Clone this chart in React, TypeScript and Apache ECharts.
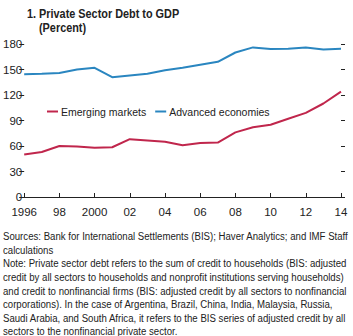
import React, { useEffect, useRef } from "react";
import * as echarts from "echarts";

const years = [1996, 1997, 1998, 1999, 2000, 2001, 2002, 2003, 2004, 2005, 2006, 2007, 2008, 2009, 2010, 2011, 2012, 2013, 2014];
const emergingMarkets = [50, 53, 60, 59.5, 58, 58.5, 68, 66.5, 65, 61, 63.5, 64, 76, 82, 85, 92, 99, 110, 124];
const advancedEconomies = [144.5, 145, 146, 150, 152, 141, 143, 145, 149, 152, 155.5, 159, 170, 176, 174, 174.5, 176, 173.5, 174.5];
const yTicks = [0, 30, 60, 90, 120, 150, 180];
const xTickLabels: Record<number, string> = {
  1996: "1996", 1998: "98", 2000: "2000", 2002: "02", 2004: "04", 2006: "06",
  2008: "08", 2010: "10", 2012: "12", 2014: "14",
};
const titleLines = ["1. Private Sector Debt to GDP", "(Percent)"];
const footLines = [
  "Sources: Bank for International Settlements (BIS); Haver Analytics; and IMF Staff",
  "calculations",
  "Note: Private sector debt refers to the sum of credit to households (BIS: adjusted",
  "credit by all sectors to households and nonprofit institutions serving households)",
  "and credit to nonfinancial firms (BIS: adjusted credit by all sectors to nonfinancial",
  "corporations). In the case of Argentina, Brazil, China, India, Malaysia, Russia,",
  "Saudi Arabia, and South Africa, it refers to the BIS series of adjusted credit by all",
  "sectors to the nonfinancial private sector.",
];

const FONT = "'Liberation Sans', Arial, sans-serif";
const RED = "#c0264c";
const BLUE = "#2a86c0";
const INK = "#222";

export default function App() {
  const ref = useRef<HTMLDivElement>(null);
  useEffect(() => {
    if (!ref.current) return;
    const chart = echarts.init(ref.current, undefined, { renderer: "svg" });
    const toPairs = (vals: number[]) => years.map((y, i) => [y, vals[i]]);
    chart.setOption({
      animation: false,
      textStyle: { fontFamily: FONT },
      grid: { left: 22, right: 12, top: 44, bottom: 139 },
      legend: {
        left: 42,
        top: 101,
        itemWidth: 11,
        itemHeight: 2,
        itemGap: 9,
        icon: "rect",
        textStyle: { fontFamily: FONT, fontSize: 10.5, color: INK, padding: [0, 0, 0, -2] },
        data: ["Emerging markets", "Advanced economies"],
      },
      xAxis: {
        type: "value",
        min: 1996,
        max: 2014,
        interval: 2,
        axisLine: { show: true, lineStyle: { color: INK, width: 1 } },
        axisTick: { show: true, inside: true, length: 4, lineStyle: { color: INK } },
        splitLine: { show: false },
        axisLabel: {
          fontFamily: FONT, fontSize: 11.5, color: INK, margin: 9,
          formatter: (v: number) => xTickLabels[v] ?? "",
        },
      },
      yAxis: [
        {
          type: "value", min: 0, max: 180, interval: 30, position: "left",
          axisLine: { show: false },
          axisTick: { show: true, length: 5, lineStyle: { color: INK } },
          splitLine: { show: false },
          axisLabel: {
            fontFamily: FONT, fontSize: 11.5, color: INK, margin: 2,
            formatter: (v: number) => (yTicks.includes(v) ? String(v) : ""),
          },
        },
        {
          type: "value", min: 0, max: 180, interval: 30, position: "right",
          axisLine: { show: false },
          axisTick: { show: true, length: 4, lineStyle: { color: INK } },
          splitLine: { show: false },
          axisLabel: { show: false },
        },
      ],
      series: [
        {
          name: "Emerging markets", type: "line", data: toPairs(emergingMarkets),
          showSymbol: false, symbol: "none", color: RED, lineStyle: { color: RED, width: 2 },
        },
        {
          name: "Advanced economies", type: "line", data: toPairs(advancedEconomies),
          showSymbol: false, symbol: "none", color: BLUE, lineStyle: { color: BLUE, width: 2 },
        },
      ],
      graphic: [
        {
          type: "text", x: 27, y: 13, scaleX: 0.87,
          style: { text: titleLines[0], font: `bold 12.5px ${FONT}`, fill: INK, verticalAlign: "middle" },
        },
        {
          type: "text", x: 39, y: 27, scaleX: 0.87,
          style: { text: titleLines[1], font: `bold 12.5px ${FONT}`, fill: INK, verticalAlign: "middle" },
        },
        ...footLines.map((t, i) => ({
          type: "text", x: 3, y: 236 + i * 13.55, scaleX: 0.838,
          style: { text: t, font: `11.5px ${FONT}`, fill: INK, verticalAlign: "middle" },
        })),
      ],
    });
    return () => chart.dispose();
  }, []);
  return (
    <div
      ref={ref}
      style={{ position: "fixed", left: 0, top: 0, width: 353, height: 336, background: "#fff" }}
    />
  );
}
